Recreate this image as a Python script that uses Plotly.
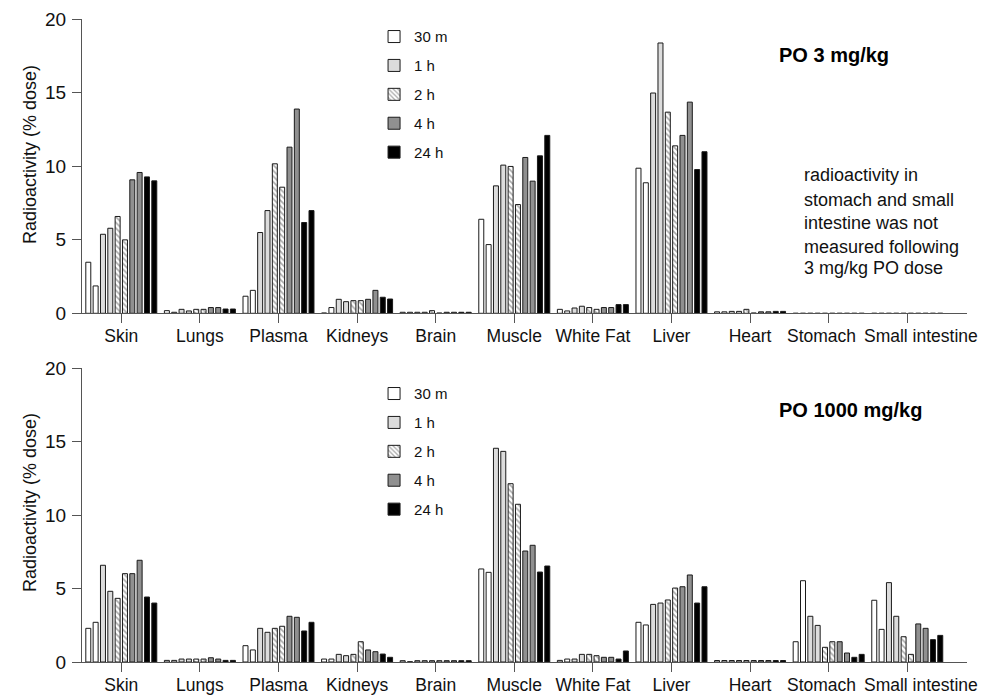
import plotly.graph_objects as go

categories = ["Skin", "Lungs", "Plasma", "Kidneys", "Brain", "Muscle",
              "White Fat", "Liver", "Heart", "Stomach", "Small intestine"]
time_labels = ["30 m", "1 h", "2 h", "4 h", "24 h"]
y_ticks = [0, 5, 10, 15, 20]
# the last two category labels are nudged apart (as in the original) and drawn as annotations
nudged = {"Stomach": -7, "Small intestine": 14}
tick_labels = ["" if c in nudged else c for c in categories]

# PO 3 mg/kg (two animals per time point)
po3_30m_a = [3.47, 0.18, 1.16, 0.02, 0.07, 6.39, 0.27, 9.86, 0.10, 0, 0]
po3_30m_b = [1.86, 0.07, 1.56, 0.39, 0.07, 4.67, 0.16, 8.87, 0.10, 0, 0]
po3_1h_a = [5.37, 0.27, 5.49, 0.95, 0.07, 8.66, 0.36, 14.97, 0.13, 0, 0]
po3_1h_b = [5.78, 0.16, 6.98, 0.79, 0.07, 10.07, 0.48, 18.37, 0.13, 0, 0]
po3_2h_a = [6.58, 0.27, 10.16, 0.86, 0.18, 9.98, 0.39, 13.67, 0.27, 0, 0]
po3_2h_b = [4.99, 0.27, 8.57, 0.86, 0.02, 7.39, 0.27, 11.38, 0.02, 0, 0]
po3_4h_a = [9.07, 0.39, 11.29, 0.95, 0.07, 10.59, 0.39, 12.09, 0.10, 0, 0]
po3_4h_b = [9.57, 0.39, 13.88, 1.56, 0.07, 8.98, 0.39, 14.35, 0.10, 0, 0]
po3_24h_a = [9.27, 0.29, 6.17, 1.09, 0.07, 10.70, 0.59, 9.77, 0.13, 0, 0]
po3_24h_b = [9.00, 0.29, 6.98, 0.97, 0.07, 12.09, 0.59, 10.98, 0.13, 0, 0]

# PO 1000 mg/kg
po1000_30m_a = [2.29, 0.11, 1.11, 0.20, 0.09, 6.33, 0.11, 2.70, 0.10, 1.38, 4.20]
po1000_30m_b = [2.70, 0.11, 0.82, 0.20, 0.02, 6.10, 0.20, 2.52, 0.10, 5.53, 2.22]
po1000_1h_a = [6.58, 0.20, 2.29, 0.52, 0.09, 14.54, 0.20, 3.92, 0.10, 3.11, 5.40]
po1000_1h_b = [4.81, 0.20, 2.02, 0.43, 0.09, 14.33, 0.52, 4.01, 0.10, 2.49, 3.11]
po1000_2h_a = [4.33, 0.20, 2.29, 0.52, 0.09, 12.13, 0.52, 4.22, 0.10, 1.00, 1.72]
po1000_2h_b = [6.01, 0.20, 2.43, 1.38, 0.09, 10.73, 0.43, 5.03, 0.10, 1.38, 0.52]
po1000_4h_a = [6.01, 0.29, 3.11, 0.82, 0.09, 7.55, 0.32, 5.12, 0.10, 1.38, 2.59]
po1000_4h_b = [6.92, 0.20, 3.04, 0.70, 0.09, 7.94, 0.32, 5.92, 0.10, 0.61, 2.29]
po1000_24h_a = [4.42, 0.11, 2.11, 0.54, 0.09, 6.12, 0.20, 4.01, 0.10, 0.32, 1.52]
po1000_24h_b = [4.01, 0.11, 2.70, 0.32, 0.09, 6.53, 0.75, 5.12, 0.10, 0.52, 1.81]

po3_series = [(po3_30m_a, po3_30m_b), (po3_1h_a, po3_1h_b), (po3_2h_a, po3_2h_b),
              (po3_4h_a, po3_4h_b), (po3_24h_a, po3_24h_b)]
po1000_series = [(po1000_30m_a, po1000_30m_b), (po1000_1h_a, po1000_1h_b),
                 (po1000_2h_a, po1000_2h_b), (po1000_4h_a, po1000_4h_b),
                 (po1000_24h_a, po1000_24h_b)]

fills = ["#ffffff", "#dcdcdc", "#ffffff", "#909090", "#000000"]
patterns = ["", "", "\\", "", ""]

FONT = "Liberation Sans, Arial, sans-serif"
fig = go.Figure()

for panel, (series, xa, ya, leg) in enumerate([
        (po3_series, "x", "y", "legend"),
        (po1000_series, "x2", "y2", "legend2")]):
    for t, pair in enumerate(series):
        for r, vals in enumerate(pair):
            fig.add_trace(go.Bar(
                x=categories, y=vals, xaxis=xa, yaxis=ya,
                name=time_labels[t], legend=leg,
                legendgroup=f"p{panel}t{t}", showlegend=(r == 0),
                hoverinfo="skip",
                marker=dict(color=fills[t],
                            line=dict(color="#1a1a1a", width=1),
                            pattern=dict(shape=patterns[t], fgcolor="#555555",
                                         bgcolor="#ffffff", size=4, solidity=0.4)),
            ))

TICKFONT = dict(family=FONT, size=17.5, color="#111111")
line_common = dict(showline=True, linecolor="#555555", linewidth=1,
                   ticks="outside", tickcolor="#555555", ticklen=9,
                   showgrid=False, zeroline=False, automargin=False)
x_common = dict(type="category", range=[-0.5, 10.76], tickangle=0,
                tickvals=categories, ticktext=tick_labels, ticklabelstandoff=-2,
                tickfont=TICKFONT, **line_common)
y_common = dict(range=[0, 20], tickvals=y_ticks, ticklabelstandoff=2,
                tickfont=dict(family=FONT, size=19, color="#111111"), **line_common)

fig.update_layout(
    width=985, height=697,
    margin=dict(l=82, r=18, t=19, b=35),
    paper_bgcolor="white", plot_bgcolor="white",
    barmode="group", bargap=0.067, bargroupgap=0.32,
    font=dict(family=FONT, size=17, color="#111111"),
    xaxis=dict(domain=[0, 1], anchor="y", **x_common),
    yaxis=dict(domain=[0.5423, 1], anchor="x", **y_common),
    xaxis2=dict(domain=[0, 1], anchor="y2", **x_common),
    yaxis2=dict(domain=[0, 0.4572], anchor="x2", **y_common),
    legend=dict(x=0.330, y=0.998, xanchor="left", yanchor="top",
                traceorder="grouped", tracegroupgap=6.4,
                font=dict(family=FONT, size=15), bgcolor="rgba(0,0,0,0)"),
    legend2=dict(x=0.330, y=0.4428, xanchor="left", yanchor="top",
                 traceorder="grouped", tracegroupgap=6.4,
                 font=dict(family=FONT, size=15), bgcolor="rgba(0,0,0,0)"),
)

# nudged category labels (kept as text, shifted apart like the original)
for xr_, yr_ in [("x", "y"), ("x2", "y2")]:
    for cat, dx in nudged.items():
        fig.add_annotation(text=cat, xref=xr_, yref=yr_, x=cat, y=0,
                           xanchor="center", yanchor="middle", xshift=dx, yshift=-22.5,
                           showarrow=False, font=TICKFONT)

# y-axis titles
for yy in [0.790, 0.2488]:
    fig.add_annotation(text="Radioactivity (% dose)", xref="paper", yref="paper",
                       x=-0.0588, y=yy, xanchor="center", yanchor="middle",
                       textangle=-90, showarrow=False,
                       font=dict(family=FONT, size=18, color="#111111"))

fig.add_annotation(text="<b>PO 3 mg/kg</b>", xref="paper", yref="paper",
                   x=0.785, y=0.944, xanchor="left", yanchor="middle",
                   showarrow=False, font=dict(family=FONT, size=20, color="#000"))
fig.add_annotation(text="<b>PO 1000 mg/kg</b>", xref="paper", yref="paper",
                   x=0.785, y=0.392, xanchor="left", yanchor="middle",
                   showarrow=False, font=dict(family=FONT, size=20, color="#000"))

note_lines = ["radioactivity in", "stomach and small", "intestine was not",
              "measured following", "3 mg/kg PO dose"]
note_y = [0.7574, 0.7185, 0.6827, 0.6454, 0.6128]
for line, yy in zip(note_lines, note_y):
    fig.add_annotation(text=line, xref="paper", yref="paper", x=0.8136, y=yy,
                       xanchor="left", yanchor="middle", showarrow=False,
                       font=dict(family=FONT, size=18, color="#111"))

fig.write_html("out.html", config={"displayModeBar": False},
               post_script="document.body.style.margin='0';document.body.style.overflow='hidden';")
